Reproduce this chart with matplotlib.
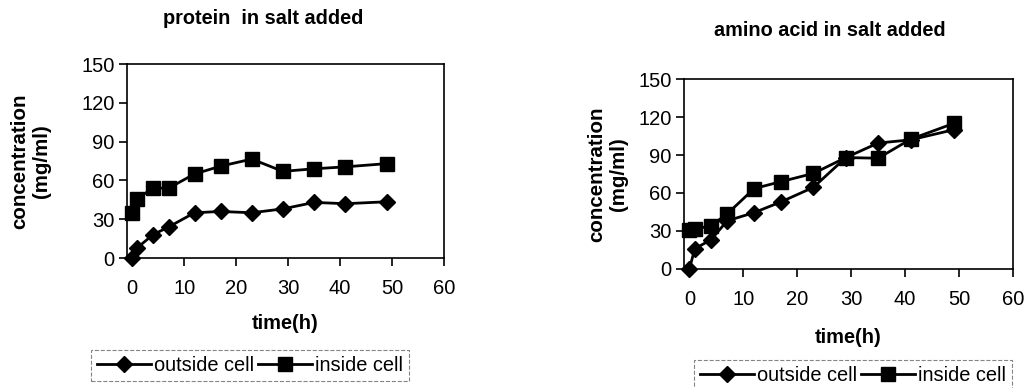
import matplotlib
matplotlib.use('Agg')
import matplotlib.pyplot as plt

plt.rcParams['font.family'] = ['Liberation Sans', 'DejaVu Sans']

time_h = [0, 1, 4, 7, 12, 17, 23, 29, 35, 41, 49]

protein_outside = [0, 8, 18, 24, 35, 36, 35, 38, 43, 42, 43.5]
protein_inside = [34.5, 46, 54, 54, 65, 71, 76.5, 67, 69, 70.5, 73]

amino_outside = [0, 16, 23, 38, 44.5, 53, 64.5, 88, 99.5, 102, 110]
amino_inside = [30.5, 31.5, 34, 43.5, 63.5, 69, 75.5, 88, 87.5, 102.5, 115]

x_ticks = [0, 10, 20, 30, 40, 50, 60]
y_ticks = [0, 30, 60, 90, 120, 150]


def draw_panel(fig, rect, title, title_xy, outside, inside, ylab_x, xlab_y, leg_box):
    ax = fig.add_axes(rect)
    ax.plot(time_h, outside, color='black', lw=2, marker='D', ms=8,
            label='outside cell', clip_on=False)
    ax.plot(time_h, inside, color='black', lw=2, marker='s', ms=10,
            label='inside cell', clip_on=False)
    ax.set_xlim(-1, 60)
    ax.set_ylim(0, 150)
    ax.set_xticks(x_ticks)
    ax.set_yticks(y_ticks)
    ax.tick_params(labelsize=14.5, length=6, width=1.2, direction='out')
    ax.tick_params(axis='x', pad=9)
    ax.tick_params(axis='y', pad=3)
    for sp in ax.spines.values():
        sp.set_linewidth(1.2)
    fig.text(title_xy[0], title_xy[1], title, ha='center', va='center',
             fontsize=14.3, fontweight='bold')
    fig.text(ylab_x, rect[1] + rect[3] / 2, 'concentration\n(mg/ml)', rotation=90,
             ha='center', va='center', fontsize=14.8, fontweight='bold',
             linespacing=1.15)
    fig.text(rect[0] + rect[2] / 2, xlab_y, 'time(h)', ha='center', va='center',
             fontsize=14.4, fontweight='bold')
    leg = fig.legend(handles=ax.get_lines(), loc='center', ncol=2,
                     bbox_to_anchor=leg_box, fontsize=14.4, frameon=True,
                     fancybox=False, handlelength=2.7, handletextpad=0.15,
                     columnspacing=0.2, borderpad=0.3)
    leg.get_frame().set_edgecolor('#666666')
    leg.get_frame().set_linestyle('--')
    leg.get_frame().set_linewidth(0.8)
    return ax


fig = plt.figure(figsize=(10.28, 3.88), dpi=100)

draw_panel(fig, [0.1235, 0.335, 0.3085, 0.50], 'protein  in salt added',
           (0.256, 0.953), protein_outside, protein_inside,
           0.030, 0.167, (0.243, 0.057))
draw_panel(fig, [0.6654, 0.307, 0.320, 0.489], 'amino acid in salt added',
           (0.807, 0.922), amino_outside, amino_inside,
           0.591, 0.131, (0.830, 0.033))

fig.savefig('out.png', dpi=100)
